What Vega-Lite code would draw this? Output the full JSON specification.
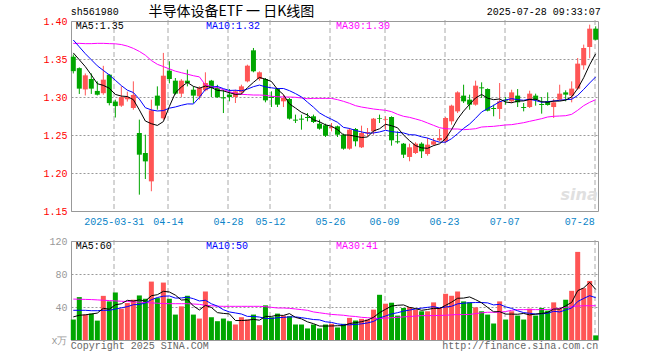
{
  "$schema": "https://vega.github.io/schema/vega-lite/v6.json",
  "background": "white",
  "padding": {"left": 30, "top": 4, "right": 0, "bottom": 0},
  "spacing": 6,
  "config": {
    "view": {"stroke": "#999", "strokeWidth": 1},
    "axis": {"domain": false, "ticks": false, "labelFont": "Liberation Mono", "labelFontSize": 10, "gridColor": "#aaa", "gridWidth": 1, "labelOverlap": false},
    "text": {"font": "Liberation Mono", "fontSize": 10}
  },
  "datasets": {
    "k": [
      {"d":"2025-03-20","o":1.353,"h":1.356,"l":1.331,"c":1.334,"v":24.8,"m5":1.358,"m10":1.375,"m30":1.3706,"vm5":28,"vm10":36,"vm30":49.6},
      {"d":"2025-03-21","o":1.338,"h":1.339,"l":1.304,"c":1.311,"v":52,"m5":1.349,"m10":1.366,"m30":1.3706,"vm5":30,"vm10":36,"vm30":49.4},
      {"d":"2025-03-24","o":1.31,"h":1.331,"l":1.302,"c":1.3285,"v":30.8,"m5":1.34,"m10":1.357,"m30":1.3702,"vm5":30.5,"vm10":36,"vm30":49.2},
      {"d":"2025-03-25","o":1.3237,"h":1.331,"l":1.304,"c":1.311,"v":32,"m5":1.329,"m10":1.349,"m30":1.3702,"vm5":31.5,"vm10":35.5,"vm30":49},
      {"d":"2025-03-26","o":1.308,"h":1.3206,"l":1.302,"c":1.303,"v":23.5,"m5":1.3175,"m10":1.341,"m30":1.3706,"vm5":32.6,"vm10":35.5,"vm30":48.6},
      {"d":"2025-03-27","o":1.305,"h":1.341,"l":1.303,"c":1.3228,"v":53.5,"m5":1.3153,"m10":1.335,"m30":1.3706,"vm5":38.4,"vm10":36,"vm30":48.2},
      {"d":"2025-03-28","o":1.3294,"h":1.33,"l":1.289,"c":1.292,"v":46.8,"m5":1.3115,"m10":1.329,"m30":1.3702,"vm5":37.3,"vm10":36,"vm30":47.8},
      {"d":"2025-03-31","o":1.294,"h":1.2965,"l":1.273,"c":1.288,"v":57.6,"m5":1.3034,"m10":1.322,"m30":1.37,"vm5":42.7,"vm10":37.5,"vm30":47.4},
      {"d":"2025-04-01","o":1.2886,"h":1.314,"l":1.287,"c":1.3,"v":38,"m5":1.3012,"m10":1.315,"m30":1.369,"vm5":43.9,"vm10":39,"vm30":47},
      {"d":"2025-04-02","o":1.297,"h":1.307,"l":1.294,"c":1.3,"v":44.8,"m5":1.3006,"m10":1.309,"m30":1.367,"vm5":48.1,"vm10":40.4,"vm30":46.6},
      {"d":"2025-04-03","o":1.2855,"h":1.3206,"l":1.2833,"c":1.3027,"v":48.8,"m5":1.2965,"m10":1.3059,"m30":1.364,"vm5":47.2,"vm10":42.8,"vm30":46.2},
      {"d":"2025-04-07","o":1.2526,"h":1.2702,"l":1.1715,"c":1.2241,"v":54,"m5":1.283,"m10":1.2972,"m30":1.36,"vm5":48.6,"vm10":43,"vm30":45.8},
      {"d":"2025-04-08","o":1.2263,"h":1.2504,"l":1.1921,"c":1.2153,"v":50,"m5":1.2684,"m10":1.2859,"m30":1.355,"vm5":47.1,"vm10":44.9,"vm30":45.4},
      {"d":"2025-04-09","o":1.189,"h":1.2965,"l":1.176,"c":1.2825,"v":70.8,"m5":1.2649,"m10":1.283,"m30":1.348,"vm5":53.7,"vm10":48.8,"vm30":45},
      {"d":"2025-04-10","o":1.3018,"h":1.314,"l":1.2833,"c":1.2886,"v":50.8,"m5":1.2626,"m10":1.2816,"m30":1.343,"vm5":54.9,"vm10":51.5,"vm30":44.6},
      {"d":"2025-04-11","o":1.272,"h":1.358,"l":1.27,"c":1.328,"v":69.6,"m5":1.2677,"m10":1.2821,"m30":1.34,"vm5":59,"vm10":53.1,"vm30":44.2},
      {"d":"2025-04-14","o":1.3346,"h":1.347,"l":1.318,"c":1.3237,"v":50,"m5":1.2876,"m10":1.2853,"m30":1.337,"vm5":58.2,"vm10":53.4,"vm30":44},
      {"d":"2025-04-15","o":1.3215,"h":1.325,"l":1.3031,"c":1.3044,"v":30.8,"m5":1.3054,"m10":1.2869,"m30":1.334,"vm5":54.4,"vm10":50.8,"vm30":44},
      {"d":"2025-04-16","o":1.3044,"h":1.3235,"l":1.3,"c":1.3215,"v":40.8,"m5":1.3132,"m10":1.2891,"m30":1.332,"vm5":48.4,"vm10":51,"vm30":44},
      {"d":"2025-04-17","o":1.3215,"h":1.336,"l":1.314,"c":1.3184,"v":53.6,"m5":1.3192,"m10":1.2909,"m30":1.33,"vm5":49,"vm10":51.9,"vm30":44},
      {"d":"2025-04-18","o":1.3096,"h":1.314,"l":1.2921,"c":1.3018,"v":30.8,"m5":1.314,"m10":1.2908,"m30":1.328,"vm5":41.2,"vm10":50.1,"vm30":43.6},
      {"d":"2025-04-21","o":1.3009,"h":1.314,"l":1.2965,"c":1.3118,"v":26,"m5":1.3116,"m10":1.2996,"m30":1.3265,"vm5":36.4,"vm10":47.3,"vm30":43.2},
      {"d":"2025-04-22","o":1.3088,"h":1.3325,"l":1.3075,"c":1.3184,"v":58.8,"m5":1.3144,"m10":1.3099,"m30":1.3158,"vm5":42,"vm10":48.2,"vm30":42},
      {"d":"2025-04-23","o":1.3215,"h":1.3225,"l":1.3,"c":1.3118,"v":27.6,"m5":1.3124,"m10":1.3128,"m30":1.314,"vm5":39.4,"vm10":43.9,"vm30":41.5},
      {"d":"2025-04-24","o":1.3118,"h":1.316,"l":1.299,"c":1.2996,"v":22.8,"m5":1.3087,"m10":1.3139,"m30":1.3123,"vm5":33.2,"vm10":41.1,"vm30":41},
      {"d":"2025-04-25","o":1.2996,"h":1.3096,"l":1.2789,"c":1.2982,"v":26,"m5":1.308,"m10":1.311,"m30":1.3096,"vm5":32.2,"vm10":36.7,"vm30":40.8},
      {"d":"2025-04-28","o":1.3031,"h":1.3105,"l":1.2943,"c":1.3,"v":22.8,"m5":1.3056,"m10":1.3086,"m30":1.307,"vm5":31.6,"vm10":34,"vm30":40.8},
      {"d":"2025-04-29","o":1.3,"h":1.3096,"l":1.2921,"c":1.3075,"v":18.8,"m5":1.3034,"m10":1.3089,"m30":1.3048,"vm5":23.6,"vm10":32.8,"vm30":40.8},
      {"d":"2025-04-30","o":1.3061,"h":1.3162,"l":1.3031,"c":1.314,"v":27.6,"m5":1.3039,"m10":1.3082,"m30":1.3035,"vm5":23.6,"vm10":31.5,"vm30":40.8},
      {"d":"2025-05-06","o":1.3206,"h":1.3425,"l":1.3193,"c":1.3412,"v":24.8,"m5":1.3122,"m10":1.3104,"m30":1.3031,"vm5":24,"vm10":28.6,"vm30":40.8},
      {"d":"2025-05-07","o":1.3614,"h":1.3645,"l":1.3325,"c":1.3338,"v":30.8,"m5":1.3193,"m10":1.3136,"m30":1.3026,"vm5":25,"vm10":28.6,"vm30":40.8},
      {"d":"2025-05-08","o":1.3237,"h":1.3338,"l":1.3215,"c":1.3325,"v":18,"m5":1.3258,"m10":1.3157,"m30":1.3026,"vm5":24,"vm10":27.8,"vm30":40.8},
      {"d":"2025-05-09","o":1.3237,"h":1.325,"l":1.293,"c":1.2956,"v":42,"m5":1.3234,"m10":1.3134,"m30":1.3022,"vm5":28.6,"vm10":26.1,"vm30":40.4},
      {"d":"2025-05-12","o":1.3,"h":1.3075,"l":1.2868,"c":1.2987,"v":27.6,"m5":1.3204,"m10":1.3121,"m30":1.3009,"vm5":28.6,"vm10":26.1,"vm30":39.6},
      {"d":"2025-05-13","o":1.3105,"h":1.3118,"l":1.2868,"c":1.2899,"v":32,"m5":1.3101,"m10":1.3111,"m30":1.3004,"vm5":30.1,"vm10":27,"vm30":38.8},
      {"d":"2025-05-14","o":1.2943,"h":1.3031,"l":1.2868,"c":1.2987,"v":29.6,"m5":1.3031,"m10":1.3112,"m30":1.3,"vm5":29.8,"vm10":27.4,"vm30":38.8},
      {"d":"2025-05-15","o":1.2974,"h":1.2987,"l":1.2702,"c":1.2715,"v":28.8,"m5":1.2909,"m10":1.3083,"m30":1.3,"vm5":32,"vm10":28,"vm30":38.4},
      {"d":"2025-05-16","o":1.2702,"h":1.2768,"l":1.2658,"c":1.2689,"v":18.8,"m5":1.2855,"m10":1.3045,"m30":1.2996,"vm5":27.4,"vm10":28,"vm30":37.6},
      {"d":"2025-05-19","o":1.2715,"h":1.2768,"l":1.257,"c":1.2702,"v":18.8,"m5":1.2798,"m10":1.3001,"m30":1.2987,"vm5":25.6,"vm10":27.1,"vm30":36.8},
      {"d":"2025-05-20","o":1.2737,"h":1.2789,"l":1.268,"c":1.2724,"v":14,"m5":1.2763,"m10":1.2932,"m30":1.2978,"vm5":22,"vm10":26,"vm30":36},
      {"d":"2025-05-21","o":1.2746,"h":1.2768,"l":1.2658,"c":1.2671,"v":18.8,"m5":1.27,"m10":1.2866,"m30":1.2982,"vm5":19.8,"vm10":24.8,"vm30":34},
      {"d":"2025-05-22","o":1.2649,"h":1.2702,"l":1.257,"c":1.2583,"v":14,"m5":1.2674,"m10":1.2791,"m30":1.2982,"vm5":16.9,"vm10":24.4,"vm30":33},
      {"d":"2025-05-23","o":1.2627,"h":1.2649,"l":1.2474,"c":1.2491,"v":18.8,"m5":1.2634,"m10":1.2745,"m30":1.2982,"vm5":16.9,"vm10":22.1,"vm30":32},
      {"d":"2025-05-26","o":1.2592,"h":1.2658,"l":1.2548,"c":1.2605,"v":19.6,"m5":1.2615,"m10":1.2707,"m30":1.2982,"vm5":17,"vm10":21.3,"vm30":31},
      {"d":"2025-05-27","o":1.2614,"h":1.2623,"l":1.2474,"c":1.2504,"v":15.2,"m5":1.2571,"m10":1.2667,"m30":1.2965,"vm5":17.3,"vm10":19.6,"vm30":30.5},
      {"d":"2025-05-28","o":1.2504,"h":1.2518,"l":1.2307,"c":1.232,"v":19.6,"m5":1.2501,"m10":1.26,"m30":1.2943,"vm5":17.4,"vm10":18.6,"vm30":30},
      {"d":"2025-05-29","o":1.232,"h":1.2592,"l":1.2307,"c":1.257,"v":26.8,"m5":1.2498,"m10":1.2586,"m30":1.2917,"vm5":20,"vm10":18.4,"vm30":29},
      {"d":"2025-05-30","o":1.2579,"h":1.2592,"l":1.2351,"c":1.2417,"v":23.6,"m5":1.2483,"m10":1.2559,"m30":1.2886,"vm5":21,"vm10":18.9,"vm30":28.5},
      {"d":"2025-06-03","o":1.2338,"h":1.2623,"l":1.2329,"c":1.2526,"v":25.6,"m5":1.2467,"m10":1.2541,"m30":1.2868,"vm5":22.2,"vm10":19.6,"vm30":27.5},
      {"d":"2025-06-04","o":1.2522,"h":1.2592,"l":1.2482,"c":1.2539,"v":24.8,"m5":1.2474,"m10":1.2523,"m30":1.2855,"vm5":24.1,"vm10":20.7,"vm30":27},
      {"d":"2025-06-05","o":1.2548,"h":1.2724,"l":1.2504,"c":1.2715,"v":36.8,"m5":1.2553,"m10":1.2527,"m30":1.2842,"vm5":27.5,"vm10":22.5,"vm30":26.5},
      {"d":"2025-06-06","o":1.2724,"h":1.2768,"l":1.2658,"c":1.2715,"v":54.8,"m5":1.2582,"m10":1.254,"m30":1.2833,"vm5":33.1,"vm10":26.6,"vm30":26},
      {"d":"2025-06-09","o":1.2702,"h":1.2746,"l":1.257,"c":1.2711,"v":44,"m5":1.2641,"m10":1.2562,"m30":1.2825,"vm5":37.2,"vm10":29.1,"vm30":26.5},
      {"d":"2025-06-10","o":1.2737,"h":1.2746,"l":1.236,"c":1.243,"v":45.2,"m5":1.2622,"m10":1.2545,"m30":1.2807,"vm5":41.1,"vm10":31.6,"vm30":27},
      {"d":"2025-06-11","o":1.2417,"h":1.2548,"l":1.2386,"c":1.2404,"v":29.6,"m5":1.2595,"m10":1.2535,"m30":1.2772,"vm5":42.1,"vm10":33.1,"vm30":27.5},
      {"d":"2025-06-12","o":1.2386,"h":1.2395,"l":1.2197,"c":1.2241,"v":38.8,"m5":1.25,"m10":1.2527,"m30":1.2746,"vm5":42.5,"vm10":35,"vm30":28},
      {"d":"2025-06-13","o":1.2211,"h":1.2386,"l":1.2154,"c":1.2338,"v":40,"m5":1.2425,"m10":1.2504,"m30":1.2732,"vm5":39.5,"vm10":36.3,"vm30":28.5},
      {"d":"2025-06-16","o":1.2263,"h":1.2404,"l":1.225,"c":1.2386,"v":36.8,"m5":1.236,"m10":1.2501,"m30":1.2711,"vm5":38.1,"vm10":37.6,"vm30":29},
      {"d":"2025-06-17","o":1.2386,"h":1.2404,"l":1.2197,"c":1.2285,"v":34.8,"m5":1.2331,"m10":1.2476,"m30":1.2689,"vm5":36,"vm10":38.6,"vm30":29.5},
      {"d":"2025-06-18","o":1.225,"h":1.2461,"l":1.2228,"c":1.2373,"v":34.8,"m5":1.2325,"m10":1.246,"m30":1.2658,"vm5":37,"vm10":39.6,"vm30":29.6},
      {"d":"2025-06-19","o":1.2373,"h":1.2461,"l":1.236,"c":1.2417,"v":45.6,"m5":1.236,"m10":1.243,"m30":1.2627,"vm5":38.4,"vm10":40.4,"vm30":29.6},
      {"d":"2025-06-20","o":1.243,"h":1.2579,"l":1.2417,"c":1.2461,"v":38.8,"m5":1.2384,"m10":1.2405,"m30":1.2596,"vm5":38.2,"vm10":38.8,"vm30":29.8},
      {"d":"2025-06-23","o":1.2417,"h":1.2737,"l":1.2395,"c":1.2724,"v":56,"m5":1.2452,"m10":1.2406,"m30":1.2583,"vm5":42,"vm10":40,"vm30":30},
      {"d":"2025-06-24","o":1.268,"h":1.2899,"l":1.2636,"c":1.2886,"v":53.6,"m5":1.2572,"m10":1.2452,"m30":1.2579,"vm5":45.8,"vm10":40.9,"vm30":30.5},
      {"d":"2025-06-25","o":1.2811,"h":1.3075,"l":1.2789,"c":1.3061,"v":58.8,"m5":1.271,"m10":1.2517,"m30":1.2579,"vm5":50.6,"vm10":43.8,"vm30":30.8},
      {"d":"2025-06-26","o":1.3018,"h":1.3162,"l":1.2921,"c":1.2943,"v":46.8,"m5":1.2815,"m10":1.2587,"m30":1.257,"vm5":50.8,"vm10":44.6,"vm30":30.8},
      {"d":"2025-06-27","o":1.2965,"h":1.3031,"l":1.2833,"c":1.2899,"v":45.6,"m5":1.2903,"m10":1.2644,"m30":1.2575,"vm5":52.2,"vm10":45.2,"vm30":31},
      {"d":"2025-06-30","o":1.2899,"h":1.3215,"l":1.2886,"c":1.3149,"v":39.6,"m5":1.2988,"m10":1.272,"m30":1.2583,"vm5":48.9,"vm10":45.4,"vm30":32},
      {"d":"2025-07-01","o":1.3127,"h":1.3193,"l":1.2987,"c":1.3114,"v":34.8,"m5":1.3033,"m10":1.2803,"m30":1.2605,"vm5":45.1,"vm10":45.4,"vm30":33},
      {"d":"2025-07-02","o":1.3105,"h":1.3114,"l":1.2811,"c":1.282,"v":30.8,"m5":1.2985,"m10":1.2847,"m30":1.261,"vm5":39.5,"vm10":45,"vm30":33.6},
      {"d":"2025-07-03","o":1.2855,"h":1.2899,"l":1.2746,"c":1.2842,"v":20,"m5":1.2965,"m10":1.289,"m30":1.2614,"vm5":34.2,"vm10":42.5,"vm30":33.6},
      {"d":"2025-07-04","o":1.2842,"h":1.3184,"l":1.2711,"c":1.2943,"v":46.8,"m5":1.2974,"m10":1.2938,"m30":1.2623,"vm5":34.4,"vm10":43.3,"vm30":33.6},
      {"d":"2025-07-07","o":1.2965,"h":1.3,"l":1.2899,"c":1.2952,"v":24.8,"m5":1.2934,"m10":1.2961,"m30":1.2632,"vm5":31.4,"vm10":40.2,"vm30":34.5},
      {"d":"2025-07-08","o":1.2943,"h":1.3096,"l":1.2921,"c":1.3061,"v":34.8,"m5":1.2924,"m10":1.2978,"m30":1.2636,"vm5":31.4,"vm10":38.3,"vm30":36},
      {"d":"2025-07-09","o":1.3018,"h":1.3105,"l":1.2868,"c":1.293,"v":29.6,"m5":1.2946,"m10":1.2965,"m30":1.2649,"vm5":31.2,"vm10":35.4,"vm30":36.8},
      {"d":"2025-07-10","o":1.2868,"h":1.2921,"l":1.2811,"c":1.2855,"v":24.8,"m5":1.2948,"m10":1.2957,"m30":1.2662,"vm5":32.2,"vm10":33.2,"vm30":36.8},
      {"d":"2025-07-11","o":1.2868,"h":1.3083,"l":1.2855,"c":1.3044,"v":38,"m5":1.2968,"m10":1.2971,"m30":1.268,"vm5":30.4,"vm10":32.4,"vm30":36.8},
      {"d":"2025-07-14","o":1.3018,"h":1.3044,"l":1.2886,"c":1.2965,"v":29.6,"m5":1.2971,"m10":1.2953,"m30":1.2697,"vm5":31.4,"vm10":31.4,"vm30":36.8},
      {"d":"2025-07-15","o":1.2908,"h":1.3,"l":1.2781,"c":1.2895,"v":38.8,"m5":1.2938,"m10":1.2931,"m30":1.2715,"vm5":32.2,"vm10":31.8,"vm30":36.8},
      {"d":"2025-07-16","o":1.2943,"h":1.3061,"l":1.2886,"c":1.2895,"v":35.6,"m5":1.2931,"m10":1.2938,"m30":1.2737,"vm5":33.4,"vm10":32.3,"vm30":37},
      {"d":"2025-07-17","o":1.2868,"h":1.2974,"l":1.2724,"c":1.293,"v":45.6,"m5":1.2946,"m10":1.2947,"m30":1.2746,"vm5":37.5,"vm10":34.8,"vm30":37.5},
      {"d":"2025-07-18","o":1.2965,"h":1.3162,"l":1.2956,"c":1.3044,"v":38,"m5":1.2946,"m10":1.2957,"m30":1.275,"vm5":37.5,"vm10":34,"vm30":38.5},
      {"d":"2025-07-21","o":1.3061,"h":1.3088,"l":1.2943,"c":1.3031,"v":48.8,"m5":1.2959,"m10":1.2965,"m30":1.2754,"vm5":41.4,"vm10":36.4,"vm30":39.5},
      {"d":"2025-07-22","o":1.3018,"h":1.3206,"l":1.293,"c":1.311,"v":59.6,"m5":1.3002,"m10":1.297,"m30":1.2772,"vm5":45.5,"vm10":38.8,"vm30":40.5},
      {"d":"2025-07-23","o":1.311,"h":1.3513,"l":1.3096,"c":1.3439,"v":106.8,"m5":1.3111,"m10":1.3021,"m30":1.2825,"vm5":59.8,"vm10":46.6,"vm30":41.2},
      {"d":"2025-07-24","o":1.3417,"h":1.3689,"l":1.336,"c":1.3645,"v":62.8,"m5":1.3254,"m10":1.31,"m30":1.2886,"vm5":63.2,"vm10":50.4,"vm30":41.5},
      {"d":"2025-07-25","o":1.3658,"h":1.3952,"l":1.351,"c":1.3899,"v":71.6,"m5":1.3425,"m10":1.3185,"m30":1.293,"vm5":69.9,"vm10":53.7,"vm30":41.5},
      {"d":"2025-07-28","o":1.3899,"h":1.393,"l":1.3746,"c":1.3754,"v":5.6,"m5":1.3569,"m10":1.3264,"m30":1.2965,"vm5":61.3,"vm10":51.3,"vm30":41.5}
    ]
  },
  "vconcat": [
    {
      "width": 527,
      "height": 190,
      "layer": [
        {
          "data": {"name": "k"},
          "mark": {"type": "rule", "strokeWidth": 1},
          "encoding": {
            "x": {"field": "d", "type": "ordinal", "sort": null, "title": null,
              "scale": {"type": "point", "padding": 0.383},
              "axis": {"values": ["2025-03-31","2025-04-14","2025-04-28","2025-05-12","2025-05-26","2025-06-09","2025-06-23","2025-07-07","2025-07-28"],
                "labelExpr": "datum.value == '2025-03-31' ? datum.value : slice(datum.value, 5)",
                "labelAngle": 0, "labelColor": "#0a84c8", "labelPadding": 7, "labelFlush": 8, "labelOverlap": false,
                "grid": true, "gridDash": [5, 3], "gridColor": "#aaa", "translate": -1}},
            "y": {"field": "l", "type": "quantitative", "title": null,
              "scale": {"domain": [1.15, 1.4], "nice": false, "zero": false},
              "axis": {"values": [1.15, 1.2, 1.25, 1.3, 1.35, 1.4], "tickCount": 20, "format": ".2f", "labelColor": "#ff0000", "labelPadding": 4, "labelOverlap": false,
                "grid": true, "gridDash": [2, 2], "gridColor": "#999", "minExtent": 40, "maxExtent": 40}},
            "y2": {"field": "h"},
            "color": {"condition": {"test": "datum.c >= datum.o", "value": "#ff5555"}, "value": "#00a600"}
          }
        },
        {
          "data": {"name": "k"},
          "mark": {"type": "bar", "size": 5},
          "encoding": {
            "x": {"field": "d", "type": "ordinal", "sort": null},
            "y": {"field": "o", "type": "quantitative", "title": null},
            "y2": {"field": "c"},
            "color": {"condition": {"test": "datum.c >= datum.o", "value": "#ff5555"}, "value": "#00a600"}
          }
        },
        {
          "data": {"name": "k"},
          "mark": {"type": "line", "color": "#ff00ff", "strokeWidth": 1},
          "encoding": {"x": {"field": "d", "type": "ordinal", "sort": null}, "y": {"field": "m30", "type": "quantitative", "title": null}}
        },
        {
          "data": {"name": "k"},
          "mark": {"type": "line", "color": "#0000ff", "strokeWidth": 1},
          "encoding": {"x": {"field": "d", "type": "ordinal", "sort": null}, "y": {"field": "m10", "type": "quantitative", "title": null}}
        },
        {
          "data": {"name": "k"},
          "mark": {"type": "line", "color": "#000000", "strokeWidth": 1},
          "encoding": {"x": {"field": "d", "type": "ordinal", "sort": null}, "y": {"field": "m5", "type": "quantitative", "title": null}}
        },
        {
          "data": {"values": [{"t": "sina"}]},
          "mark": {"type": "text", "align": "right", "baseline": "middle", "dx": 2, "font": "DejaVu Sans", "fontSize": 16, "fontWeight": "bold", "fontStyle": "italic", "color": "#e0e0e0"},
          "encoding": {"x": {"datum": "2025-07-28"}, "y": {"datum": 1.171}, "text": {"field": "t"}}
        },
        {
          "data": {"values": [{"t": "sh561980"}]},
          "mark": {"type": "text", "align": "left", "baseline": "middle", "dx": -2.5, "color": "#000"},
          "encoding": {"x": {"datum": "2025-03-20"}, "y": {"datum": 1.4116}, "text": {"field": "t"}}
        },
        {
          "data": {"values": [{"t": "半导体设备ETF 一 日K线图"}]},
          "mark": {"type": "text", "align": "center", "baseline": "middle", "dx": 2, "font": "Noto Sans CJK SC", "fontSize": 14, "color": "#000"},
          "encoding": {"x": {"datum": "2025-04-28"}, "y": {"datum": 1.4116}, "text": {"field": "t"}}
        },
        {
          "data": {"values": [{"t": "2025-07-28 09:33:07"}]},
          "mark": {"type": "text", "align": "right", "baseline": "middle", "dx": 5, "color": "#000"},
          "encoding": {"x": {"datum": "2025-07-28"}, "y": {"datum": 1.4116}, "text": {"field": "t"}}
        },
        {
          "data": {"values": [{"t": "MA5:1.35"}]},
          "mark": {"type": "text", "align": "left", "baseline": "middle", "dx": 2.5, "color": "#000"},
          "encoding": {"x": {"datum": "2025-03-20"}, "y": {"datum": 1.3934}, "text": {"field": "t"}}
        },
        {
          "data": {"values": [{"t": "MA10:1.32"}]},
          "mark": {"type": "text", "align": "left", "baseline": "middle", "dx": 0.5, "color": "#0000ff"},
          "encoding": {"x": {"datum": "2025-04-22"}, "y": {"datum": 1.3934}, "text": {"field": "t"}}
        },
        {
          "data": {"values": [{"t": "MA30:1.30"}]},
          "mark": {"type": "text", "align": "left", "baseline": "middle", "dx": -1.5, "color": "#ff00ff"},
          "encoding": {"x": {"datum": "2025-05-27"}, "y": {"datum": 1.3934}, "text": {"field": "t"}}
        }
      ]
    },
    {
      "width": 527,
      "height": 99,
      "layer": [
        {
          "data": {"name": "k"},
          "mark": {"type": "bar", "size": 5},
          "encoding": {
            "x": {"field": "d", "type": "ordinal", "sort": null, "title": null,
              "scale": {"type": "point", "padding": 0.383},
              "axis": {"values": ["2025-03-31","2025-04-14","2025-04-28","2025-05-12","2025-05-26","2025-06-09","2025-06-23","2025-07-07","2025-07-28"],
                "labels": false, "grid": true, "gridDash": [5, 3], "gridColor": "#aaa", "translate": -1}},
            "y": {"field": "v", "type": "quantitative", "title": null,
              "scale": {"domain": [0, 120], "nice": false},
              "axis": {"values": [0, 40, 80, 120], "tickCount": 20, "labelExpr": "datum.value == 0 ? 'x万' : datum.label", "labelColor": "#999", "labelPadding": 4, "labelOverlap": false,
                "grid": true, "gridDash": [2, 2], "gridColor": "#999", "minExtent": 40, "maxExtent": 40}},
            "color": {"condition": {"test": "datum.c >= datum.o", "value": "#ff5555"}, "value": "#00a600"}
          }
        },
        {
          "data": {"name": "k"},
          "mark": {"type": "line", "color": "#ff00ff", "strokeWidth": 1},
          "encoding": {"x": {"field": "d", "type": "ordinal", "sort": null}, "y": {"field": "vm30", "type": "quantitative", "title": null}}
        },
        {
          "data": {"name": "k"},
          "mark": {"type": "line", "color": "#0000ff", "strokeWidth": 1},
          "encoding": {"x": {"field": "d", "type": "ordinal", "sort": null}, "y": {"field": "vm10", "type": "quantitative", "title": null}}
        },
        {
          "data": {"name": "k"},
          "mark": {"type": "line", "color": "#000000", "strokeWidth": 1},
          "encoding": {"x": {"field": "d", "type": "ordinal", "sort": null}, "y": {"field": "vm5", "type": "quantitative", "title": null}}
        },
        {
          "data": {"values": [{"t": "MA5:60"}]},
          "mark": {"type": "text", "align": "left", "baseline": "middle", "dx": 2.5, "color": "#000"},
          "encoding": {"x": {"datum": "2025-03-20"}, "y": {"datum": 113.5}, "text": {"field": "t"}}
        },
        {
          "data": {"values": [{"t": "MA10:50"}]},
          "mark": {"type": "text", "align": "left", "baseline": "middle", "dx": 0.5, "color": "#0000ff"},
          "encoding": {"x": {"datum": "2025-04-22"}, "y": {"datum": 113.5}, "text": {"field": "t"}}
        },
        {
          "data": {"values": [{"t": "MA30:41"}]},
          "mark": {"type": "text", "align": "left", "baseline": "middle", "dx": -1.5, "color": "#ff00ff"},
          "encoding": {"x": {"datum": "2025-05-27"}, "y": {"datum": 113.5}, "text": {"field": "t"}}
        },
        {
          "data": {"values": [{"t": "Copyright 2025 SINA.COM"}]},
          "mark": {"type": "text", "align": "left", "baseline": "middle", "dx": -2.5, "color": "#666"},
          "encoding": {"x": {"datum": "2025-03-20"}, "y": {"datum": -7.5}, "text": {"field": "t"}}
        },
        {
          "data": {"values": [{"t": "http://finance.sina.com.cn"}]},
          "mark": {"type": "text", "align": "right", "baseline": "middle", "dx": 2.5, "color": "#666"},
          "encoding": {"x": {"datum": "2025-07-28"}, "y": {"datum": -7.5}, "text": {"field": "t"}}
        }
      ]
    }
  ]
}
